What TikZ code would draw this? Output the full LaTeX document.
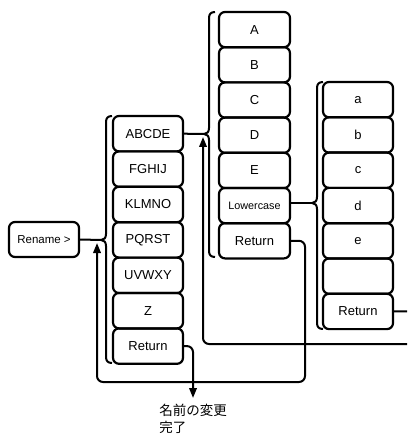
\documentclass[tikz,border=0pt]{standalone}
\usepackage{fontspec}
\setmainfont{Liberation Sans}
\newfontfamily\jpfont{Noto Sans CJK JP}
\usetikzlibrary{arrows.meta}
\newcommand\mybrace[4]{% x, top, mid, bottom
  \draw[brk] (#1+6,#2) .. controls (#1+2,#2) and (#1,#2+2) .. (#1,#2+6)
    -- (#1,#3-6) .. controls (#1,#3-2) and (#1-2,#3) .. (#1-5,#3)
    .. controls (#1-2,#3) and (#1,#3+2) .. (#1,#3+6)
    -- (#1,#4-6) .. controls (#1,#4-2) and (#1+2,#4) .. (#1+6,#4);}
\begin{document}
\begin{tikzpicture}[x=1pt,y=-1pt,
  key/.style={draw, rounded corners=6pt, minimum width=70pt, minimum height=35.4pt,
    inner sep=0pt, line width=2.2pt, font=\fontsize{13}{15}\selectfont},
  brk/.style={line width=2pt},
  conn/.style={line width=2pt, rounded corners=6pt},
  arr/.style={conn, -{Triangle[length=10pt,width=7.5pt]}}]
\useasboundingbox (0,0) rectangle (407,438);
\clip (0,0) rectangle (407,438);

% Rename key
\node[key, minimum height=35pt, font=\fontsize{11.5}{13}\selectfont] (ren) at (44,239.5) {Rename >};

% column 1
\foreach \t [count=\i from 0] in {ABCDE,FGHIJ,KLMNO,PQRST,UVWXY,Z,Return}
  \node[key] (p\i) at (148,133.7+35.4*\i) {\t};
% column 2
\foreach \t [count=\i from 0] in {A,B,C,D,E,{\fontsize{10.8}{12}\selectfont Lowercase},Return}
  \node[key, minimum width=71pt, minimum height=35.2pt] (q\i) at (254.5,29.6+35.2*\i) {\t};
% column 3
\foreach \t [count=\i from 0] in {a,b,c,d,e,{},Return}
  \node[key, minimum height=35.3pt] (r\i) at (358,99.65+35.3*\i) {\t};

% braces
\mybrace{106}{116}{240}{363}
\mybrace{209}{12}{134}{257}
\mybrace{317}{82}{203}{329}
\coordinate (t1) at (101,240);
\coordinate (t2) at (204,134);
\coordinate (t3) at (312,203);

% forward connectors
\draw[conn] (ren.east) -- (t1);
\draw[conn] (p0.east) -- (t2);
\draw[conn] (q5.east |- t3) -- (t3);

% result text
\node[anchor=north, inner sep=0pt, align=left, font=\jpfont\fontsize{13.5}{17}\selectfont] (done) at (193,404) {名前の変更\\完了};

% return paths
\coordinate (a2) at (203,137);
\coordinate (a1) at (97,243);
\draw[arr] (r6.east) -- (425,311.45) -- (425,344) -- (203,344) -- (a2);
\draw[arr] (q6.east) -- (305,240.8) -- (305,382) -- (97,382) -- (a1);
\draw[arr] (p6.east) -- (193,346.1) -- ([yshift=6pt]done.north);
\end{tikzpicture}
\end{document}
